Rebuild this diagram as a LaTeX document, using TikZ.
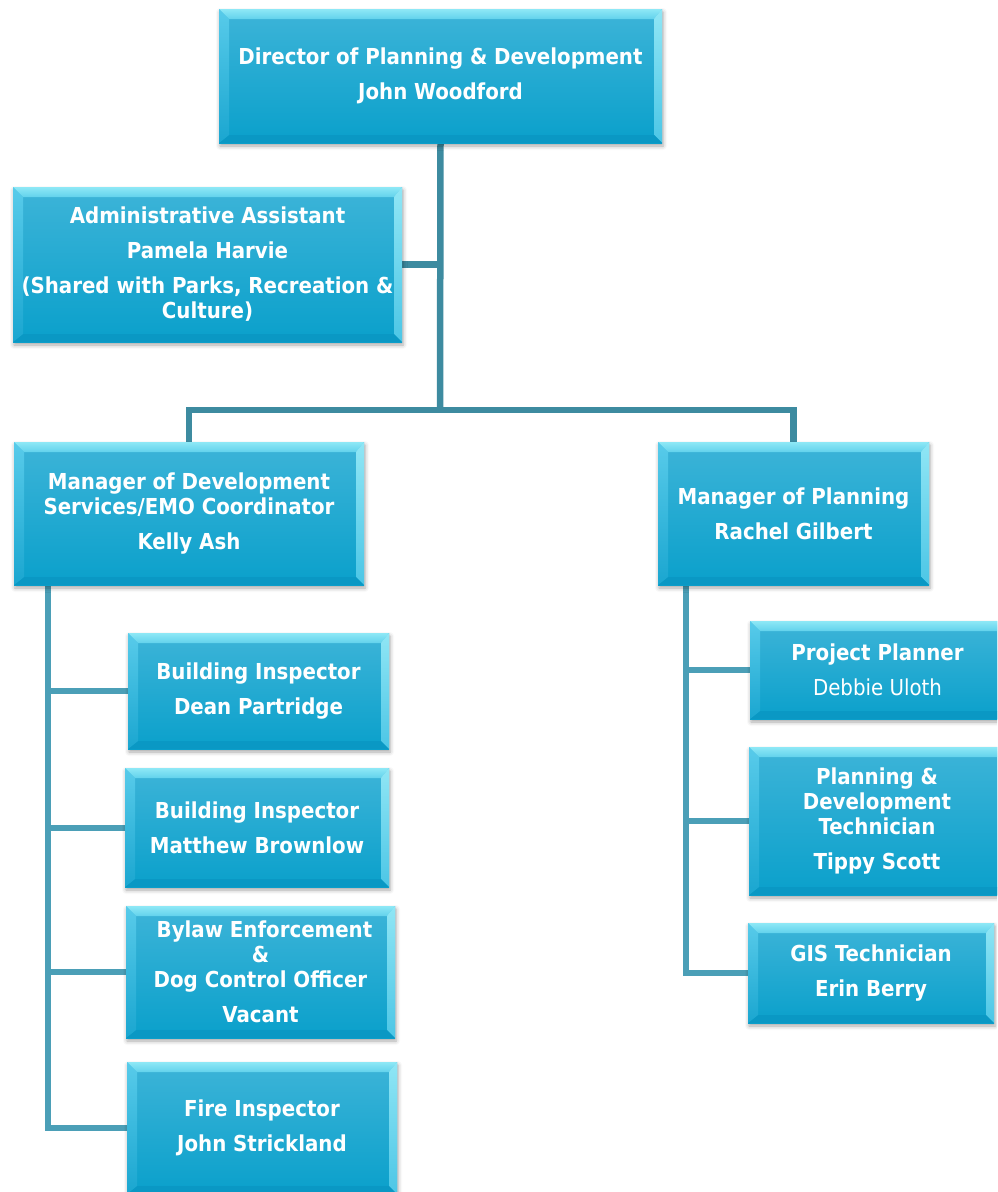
\documentclass[tikz,border=0pt]{standalone}
\usepackage{fontspec}
\usetikzlibrary{calc,shadows.blur}
\newfontfamily\boxfont{DejaVu Sans Condensed}

\definecolor{facetop}{HTML}{3DB4D8}
\definecolor{facebot}{HTML}{0AA0CB}
\definecolor{bevtop}{HTML}{8EE8F6}
\definecolor{bevtopin}{HTML}{62D2EC}
\definecolor{bevltop}{HTML}{58CBEA}
\definecolor{bevlbot}{HTML}{1AA6D0}
\definecolor{bevrtop}{HTML}{90E6F5}
\definecolor{bevrbot}{HTML}{4CC6E6}
\definecolor{bevbot}{HTML}{0A98C4}
\definecolor{trunk}{HTML}{3D8BA0}
\definecolor{branch}{HTML}{4B9FB7}

\pgfdeclarelayer{links}
\pgfsetlayers{links,main}

\tikzset{
  orgbox/.style={
    rectangle, inner sep=0pt, text=white,
    font=\boxfont\bfseries\fontsize{22}{25}\selectfont, align=center,
    top color=facetop, bottom color=facebot,
    blur shadow={shadow xshift=1pt, shadow yshift=-3pt,
                 shadow blur radius=4pt, shadow opacity=35},
    path picture={
      \path (path picture bounding box.north west) coordinate (A)
            (path picture bounding box.north east) coordinate (B)
            (path picture bounding box.south east) coordinate (C)
            (path picture bounding box.south west) coordinate (D);
      \shade[top color=bevtop, bottom color=bevtopin]
        (A) -- (B) -- ($(B)+(-8pt,-10pt)$) -- ($(A)+(10pt,-10pt)$) -- cycle;
      \shade[top color=bevrtop, bottom color=bevrbot]
        (B) -- (C) -- ($(C)+(-8pt,8pt)$) -- ($(B)+(-8pt,-10pt)$) -- cycle;
      \fill[bevbot] (C) -- (D) -- ($(D)+(10pt,8pt)$) -- ($(C)+(-8pt,8pt)$) -- cycle;
      \shade[top color=bevltop, bottom color=bevlbot]
        (D) -- (A) -- ($(A)+(10pt,-10pt)$) -- ($(D)+(10pt,8pt)$) -- cycle;
    }
  },
  link/.style={draw=trunk, line width=6.5pt},
  sublink/.style={draw=branch, line width=6pt},
}

\begin{document}
\begin{tikzpicture}[x=1pt, y=-1pt]
\useasboundingbox (0,0) rectangle (997,1192);
\clip (0,0) rectangle (997,1192);

% connector junctions
\coordinate (hub)  at (440,410);
\coordinate (ltop) at (48,585);
\coordinate (rtop) at (686,585);

% boxes
\node[orgbox, minimum width=443pt, minimum height=134pt] (dir) at (440.5,76)
  {Director of Planning \& Development\\[10pt]John Woodford};
\node[orgbox, minimum width=389pt, minimum height=155pt] (admin) at (207.5,264.5)
  {Administrative Assistant\\[10pt]Pamela Harvie\\[10pt](Shared with Parks, Recreation \&\\Culture)};
\node[orgbox, minimum width=350pt, minimum height=143pt] (mdev) at (189,513.5)
  {Manager of Development\\Services/EMO Coordinator\\[10pt]Kelly Ash};
\node[orgbox, minimum width=271pt, minimum height=143pt] (mplan) at (793.5,513.5)
  {Manager of Planning\\[10pt]Rachel Gilbert};
\node[orgbox, minimum width=261pt, minimum height=116pt] (bi1) at (258.5,691)
  {Building Inspector\\[10pt]Dean Partridge};
\node[orgbox, minimum width=264pt, minimum height=119pt] (bi2) at (257,827.5)
  {Building Inspector\\[10pt]Matthew Brownlow};
\node[orgbox, minimum width=269pt, minimum height=132pt] (bylaw) at (260.5,972)
  {\hspace*{8pt}Bylaw Enforcement\\\&\\Dog Control Officer\hspace*{4pt}\\[10pt]Vacant};
\node[orgbox, minimum width=270pt, minimum height=132pt] (fire) at (262,1128)
  {Fire Inspector\\[10pt]John Strickland};
\node[orgbox, minimum width=255pt, minimum height=98pt] (pp) at (877.5,670)
  {Project Planner\\[10pt]{\mdseries Debbie Uloth}};
\node[orgbox, minimum width=256pt, minimum height=148pt] (pdt) at (877,821)
  {Planning \&\\Development\\Technician\\[10pt]Tippy Scott};
\node[orgbox, minimum width=246pt, minimum height=100pt] (gis) at (871,973)
  {GIS Technician\\[10pt]Erin Berry};

% connectors, on a layer under the boxes
\begin{pgfonlayer}{links}
\draw[link] (dir.south) -- (hub);
\draw[link] (admin.east) -- (dir.south |- admin.east);
\draw[link] (mdev.north) |- (hub) -| (mplan.north);
\draw[sublink] (ltop) |- (fire.west);
\draw[sublink] (bi1.west -| ltop) -- (bi1.west);
\draw[sublink] (bi2.west -| ltop) -- (bi2.west);
\draw[sublink] (bylaw.west -| ltop) -- (bylaw.west);
\draw[sublink] (rtop) |- (gis.west);
\draw[sublink] (pp.west -| rtop) -- (pp.west);
\draw[sublink] (pdt.west -| rtop) -- (pdt.west);
\end{pgfonlayer}
\end{tikzpicture}
\end{document}
